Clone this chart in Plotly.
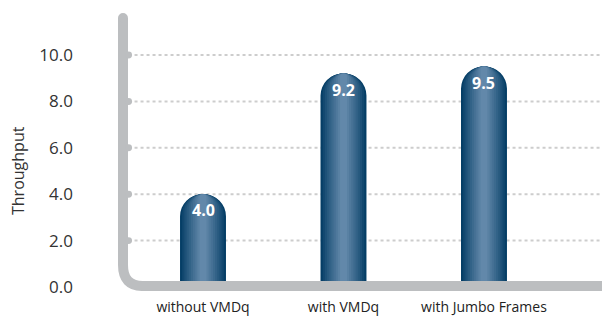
import plotly.graph_objects as go

categories = ["without VMDq", "with VMDq", "with Jumbo Frames"]
values = [4.0, 9.2, 9.5]
y_ticks = [0, 2, 4, 6, 8, 10]
y_tick_labels = ["0.0", "2.0", "4.0", "6.0", "8.0", "10.0"]
y_title = "Throughput"

W, H = 602, 317
ML, MR, MT, MB = 118, 0, 10, 26
x_range = [-0.605, 2.84]
y_range = [-0.172, 11.94]
PW, PH = W - ML - MR, H - MT - MB

def lerp(c1, c2, t):
    return "#%02x%02x%02x" % tuple(int(round(a + (b - a) * t)) for a, b in zip(c1, c2))

dark = (5, 62, 102)
light = (98, 136, 170)

fig = go.Figure()
n_layers = 10
bar_w = 0.327
for i in range(n_layers):
    t = i / (n_layers - 1)
    w = bar_w * (1 - 0.85 * t)
    fig.add_trace(go.Bar(
        x=list(range(len(categories))), y=values, width=w,
        marker=dict(color=lerp(dark, light, t ** 0.9), line=dict(width=0), cornerradius="50%"),
        hoverinfo="skip", showlegend=False,
    ))

for i, v in enumerate(values):
    fig.add_annotation(x=i, y=v, text=f"{v:.1f}", showarrow=False, yshift=-16,
                       font=dict(family="Open Sans", size=16, color="white", weight="bold"))

fig.add_annotation(xref="paper", yref="paper", x=(18 - ML) / PW,
                   y=(H - MB - 171) / PH, text=y_title, textangle=-90,
                   showarrow=False, xanchor="center", yanchor="middle",
                   font=dict(family="Open Sans", size=16, color="#333333"))

gray = "#bcbec0"
axis_x = -0.5694
for yv in y_ticks[1:]:
    fig.add_shape(type="line", xref="x", yref="y", x0=-0.53, x1=3.0, y0=yv, y1=yv,
                  line=dict(color="#cdcdcd", width=2, dash="dot"), layer="below")
fig.add_shape(type="path",
              path=f"M {axis_x},11.6 L {axis_x},0.95 Q {axis_x},0.043 -0.43,0.043 L 3.2,0.043",
              xref="x", yref="y", line=dict(color=gray, width=10), layer="above")
fig.add_shape(type="circle", xref="x", yref="y", x0=-0.605, x1=-0.534, y0=11.38, y1=11.81,
              fillcolor=gray, line=dict(width=0), layer="above")
for yv in y_ticks[1:]:
    fig.add_shape(type="circle", xref="x", yref="y", x0=-0.555, x1=-0.505,
                  y0=yv - 0.15, y1=yv + 0.15, fillcolor=gray, line=dict(width=0), layer="above")

fig.update_layout(
    width=W, height=H, margin=dict(l=ML, r=MR, t=MT, b=MB, autoexpand=False),
    barmode="overlay", plot_bgcolor="white", paper_bgcolor="white",
    font=dict(family="Open Sans", color="#333333"),
    xaxis=dict(range=x_range, tickvals=list(range(len(categories))), ticktext=categories,
               showgrid=False, zeroline=False, showline=False, ticks="", automargin=False,
               ticklabelstandoff=6,
               tickfont=dict(size=14, color="#222222"), fixedrange=True),
    yaxis=dict(range=y_range, tickvals=y_ticks, ticktext=y_tick_labels,
               showgrid=False, zeroline=False, showline=False, ticks="", automargin=False,
               ticklabelstandoff=44,
               tickfont=dict(size=17, color="#333333"), fixedrange=True),
)
fig.write_html("out.html", config={"displayModeBar": False},
               post_script="document.body.style.margin='0';document.body.style.overflow='hidden';")
